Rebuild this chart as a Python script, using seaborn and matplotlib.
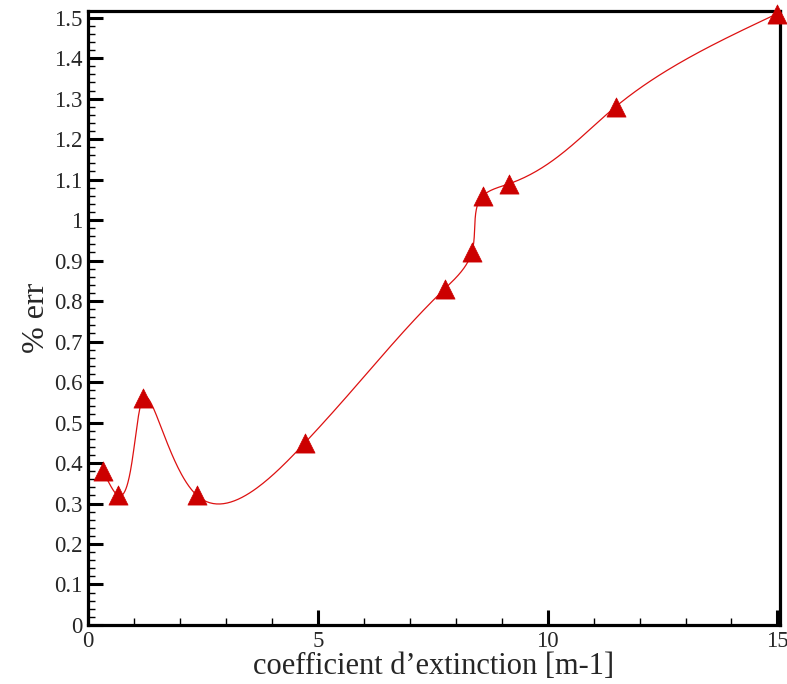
import numpy as np
import pandas as pd
import matplotlib
matplotlib.use("Agg")
import matplotlib.pyplot as plt
import seaborn as sns
from matplotlib.ticker import MultipleLocator, FuncFormatter

coef = [0.33, 0.65, 1.2, 2.37, 4.72, 7.76, 8.35, 8.59, 9.17, 11.48, 15.0]
err = [0.38, 0.32, 0.56, 0.32, 0.45, 0.83, 0.92, 1.06, 1.09, 1.28, 1.51]

SX, SY = 46.0, 404.7  # screen scaling for parametrization of the spline line


def nat_coeffs(t, y):
    k = len(t)
    h = np.diff(t)
    A = np.zeros((k, k))
    b = np.zeros(k)
    A[0, 0] = 1
    A[-1, -1] = 1
    for i in range(1, k - 1):
        A[i, i - 1] = h[i - 1]
        A[i, i] = 2 * (h[i - 1] + h[i])
        A[i, i + 1] = h[i]
        b[i] = 6 * ((y[i + 1] - y[i]) / h[i] - (y[i] - y[i - 1]) / h[i - 1])
    return np.linalg.solve(A, b)


def nat_eval(t, y, M, n=60):
    out_y = []
    h = np.diff(t)
    for i in range(len(t) - 1):
        tt = np.linspace(t[i], t[i + 1], n, endpoint=(i == len(t) - 2))
        a = t[i + 1] - tt
        c = tt - t[i]
        s = (M[i] * a ** 3 + M[i + 1] * c ** 3) / (6 * h[i]) \
            + (y[i] / h[i] - M[i] * h[i] / 6) * a \
            + (y[i + 1] / h[i] - M[i + 1] * h[i] / 6) * c
        out_y.extend(s)
    return np.array(out_y)


def parametric_spline(x, y):
    x = np.asarray(x, float)
    y = np.asarray(y, float)
    d = np.hypot(np.diff(x) * SX, np.diff(y) * SY)
    t = np.concatenate([[0], np.cumsum(d)])
    xs = nat_eval(t, x, nat_coeffs(t, x))
    ys = nat_eval(t, y, nat_coeffs(t, y))
    return xs, ys


sns.set_style("white")
plt.rcParams['font.family'] = ['Liberation Serif', 'DejaVu Serif']

fig = plt.figure(figsize=(7.87, 6.84), dpi=100)
ax = fig.add_axes([0.1118, 0.0863, 0.879, 0.898])

sx, sy = parametric_spline(coef, err)
pts = pd.DataFrame({"x": coef, "y": err})

sns.lineplot(x=sx, y=sy, ax=ax, color="#dd1111", linewidth=0.9, sort=False, estimator=None)
sns.scatterplot(data=pts, x="x", y="y", ax=ax, marker="^", s=190,
                color="#cc0000", edgecolor="#cc0000", linewidth=0.5,
                clip_on=False, zorder=5)

ax.set_xlim(0, 15.05)
ax.set_ylim(0, 1.517)
ax.xaxis.set_major_locator(MultipleLocator(5))
ax.xaxis.set_minor_locator(MultipleLocator(1))
ax.yaxis.set_major_locator(MultipleLocator(0.1))
ax.yaxis.set_minor_locator(MultipleLocator(0.02))
ax.yaxis.set_major_formatter(FuncFormatter(lambda v, p: f"{v:.1f}".rstrip("0").rstrip(".") if v != 0 else "0"))
ax.tick_params(which="major", direction="in", length=11, width=2.2, labelsize=16.5,
               bottom=True, left=True, top=False, right=False, pad=4, color="black")
ax.tick_params(which="minor", direction="in", length=5, width=1,
               bottom=True, left=True, top=False, right=False, color="black")
for sp in ax.spines.values():
    sp.set_linewidth(2.3)
    sp.set_color("black")

ax.set_xlabel("coefficient d\u2019extinction [m-1]", fontsize=22, labelpad=0)
ax.set_ylabel("% err", fontsize=23, labelpad=2)

fig.savefig("out.png", dpi=100)
